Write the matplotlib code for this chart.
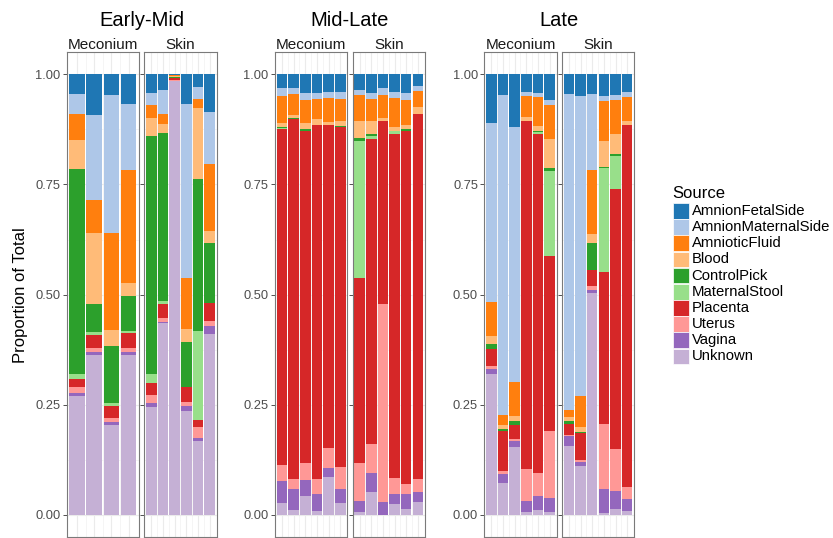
import numpy as np
import matplotlib
matplotlib.use("Agg")
from matplotlib import pyplot
from matplotlib.patches import Rectangle

pyplot.rcParams["font.family"] = ["Liberation Sans", "DejaVu Sans"]

# legend order (top of each bar first)
sources = ["AmnionFetalSide", "AmnionMaternalSide", "AmnioticFluid", "Blood",
           "ControlPick", "MaternalStool", "Placenta", "Uterus", "Vagina", "Unknown"]
colors = ["#1f77b4", "#aec7e8", "#ff7f0e", "#ffbb78", "#2ca02c",
          "#98df8a", "#d62728", "#ff9896", "#9467bd", "#c5b0d5"]

# every row below is one sample, columns run bottom -> top of the bar:
# Unknown, Vagina, Uterus, Placenta, MaternalStool, ControlPick,
# Blood, AmnioticFluid, AmnionMaternalSide, AmnionFetalSide
stack_order = sources[::-1]

early_mid_meconium = [
    [.270, .007, .013, .018, .011, .466, .066, .058, .046, .045],
    [.363, .006, .010, .030, .006, .063, .161, .076, .192, .093],
    [.205, .005, .011, .026, .006, .131, .036, .219, .313, .048],
    [.364, .006, .009, .035, .003, .080, .029, .256, .150, .068],
]
early_mid_skin = [
    [.246, .008, .018, .028, .019, .541, .040, .031, .027, .042],
    [.435, .004, .008, .031, .007, .381, .022, .021, .055, .036],
    [.984, .002, .002, .003, .001, .002, .002, .002, .001, .001],
    [.237, .010, .009, .035, .000, .101, .031, .114, .395, .068],
    [.169, .006, .024, .016, .203, .345, .161, .021, .026, .029],
    [.410, .018, .012, .042, .000, .136, .027, .151, .118, .086],
]
mid_late_meconium = [
    [.027, .050, .036, .764, .002, .002, .009, .061, .018, .031],
    [.012, .046, .024, .816, .000, .003, .007, .047, .013, .032],
    [.042, .038, .037, .755, .000, .004, .014, .051, .017, .042],
    [.010, .037, .035, .802, .000, .002, .013, .044, .015, .042],
    [.086, .020, .047, .731, .000, .002, .006, .055, .014, .039],
    [.028, .030, .051, .772, .000, .002, .011, .051, .016, .039],
]
mid_late_skin = [
    [.006, .026, .085, .421, .311, .007, .037, .060, .011, .036],
    [.051, .044, .065, .693, .006, .005, .029, .050, .014, .043],
    [.000, .030, .449, .414, .000, .000, .007, .052, .016, .032],
    [.024, .024, .035, .782, .006, .000, .009, .067, .013, .040],
    [.014, .033, .023, .802, .000, .003, .009, .058, .015, .043],
    [.029, .023, .030, .829, .000, .000, .015, .036, .011, .027],
]
late_meconium = [
    [.321, .010, .006, .040, .000, .012, .017, .078, .405, .111],
    [.073, .019, .007, .092, .000, .005, .008, .023, .725, .048],
    [.155, .013, .004, .032, .000, .009, .012, .077, .579, .119],
    [.006, .026, .072, .790, .000, .000, .009, .048, .008, .041],
    [.011, .032, .052, .769, .004, .003, .012, .065, .010, .042],
    [.006, .032, .153, .397, .193, .006, .066, .077, .011, .059],
]
late_skin = [
    [.157, .023, .002, .025, .000, .007, .008, .016, .717, .045],
    [.111, .009, .005, .060, .000, .004, .011, .069, .682, .049],
    [.503, .008, .009, .036, .000, .061, .020, .146, .172, .045],
    [.004, .055, .147, .346, .235, .003, .059, .090, .012, .049],
    [.013, .041, .095, .590, .076, .005, .045, .077, .012, .046],
    [.008, .028, .028, .821, .000, .000, .010, .054, .012, .039],
]

groups = ["Early-Mid", "Mid-Late", "Late"]
facets = ["Meconium", "Skin"]
group_data = [
    [early_mid_meconium, early_mid_skin],
    [mid_late_meconium, mid_late_skin],
    [late_meconium, late_skin],
]

W, H = 833, 538
group_left = [66.7, 275.0, 484.3]   # pixels
panel_w = 72.3
panel_gap = 5.3
panel_top = 52.3
panel_bottom = 537.0


def draw_facet(ax, data, title, show_y):
    vals = np.array(data)
    n = len(vals)
    x = np.arange(1, n + 1)
    bottom = np.zeros(n)
    for j, src in enumerate(stack_order):
        ax.bar(x, vals[:, j], bottom=bottom, width=0.9, linewidth=0,
               color=colors[sources.index(src)])
        bottom += vals[:, j]
    ax.set_xlim(0.4, n + 0.6)
    ax.set_ylim(-0.05, 1.05)
    ax.set_xticks(x)
    ax.set_xticks(np.arange(1.5, n, 1), minor=True)
    ax.set_xticklabels([])
    ax.set_yticks([0, 0.25, 0.5, 0.75, 1.0])
    ax.set_yticks([0.125, 0.375, 0.625, 0.875], minor=True)
    if show_y:
        ax.set_yticklabels(["0.00", "0.25", "0.50", "0.75", "1.00"])
    else:
        ax.set_yticklabels([])
        ax.tick_params(axis="y", which="major", length=0)
    ax.grid(which="major", color="#ebebeb", linewidth=0.8)
    ax.grid(which="minor", color="#f2f2f2", linewidth=0.5)
    ax.set_axisbelow(True)
    ax.tick_params(which="minor", length=0)
    ax.tick_params(which="major", direction="out", length=3, width=0.6,
                   color="#333333", labelcolor="#4d4d4d", labelsize=9.3, pad=1.5)
    for s in ax.spines.values():
        s.set_color("#7a7a7a")
        s.set_linewidth(0.8)
    ax.set_title(title, fontsize=11, pad=2.5, color="#1a1a1a")


fig = pyplot.figure(figsize=(W / 100, H / 100), dpi=100)

for g, name in enumerate(groups):
    for f in range(2):
        left = group_left[g] + f * (panel_w + panel_gap)
        ax = fig.add_axes([left / W, (H - panel_bottom) / H, panel_w / W,
                           (panel_bottom - panel_top) / H])
        draw_facet(ax, group_data[g][f], facets[f], f == 0)
        if g == 0 and f == 0:
            ax.set_ylabel("Proportion of Total", fontsize=12, labelpad=5)
    cx = group_left[g] + panel_w + panel_gap / 2
    fig.text(cx / W, 1 - 20 / H, name, ha="center", va="center", fontsize=14.5)

# legend
fig.text(672 / W, 1 - 193 / H, "Source", ha="left", va="center", fontsize=12)
for i, src in enumerate(sources):
    yc = 210.7 + i * 16.2
    fig.add_artist(Rectangle((672.5 / W, 1 - (yc + 7.8) / H), 16 / W, 15.6 / H,
                             transform=fig.transFigure, facecolor=colors[i],
                             edgecolor="white", linewidth=0.5))
    fig.text(691.5 / W, 1 - yc / H, src, ha="left", va="center", fontsize=10.7)

fig.savefig("out.png", dpi=100)
